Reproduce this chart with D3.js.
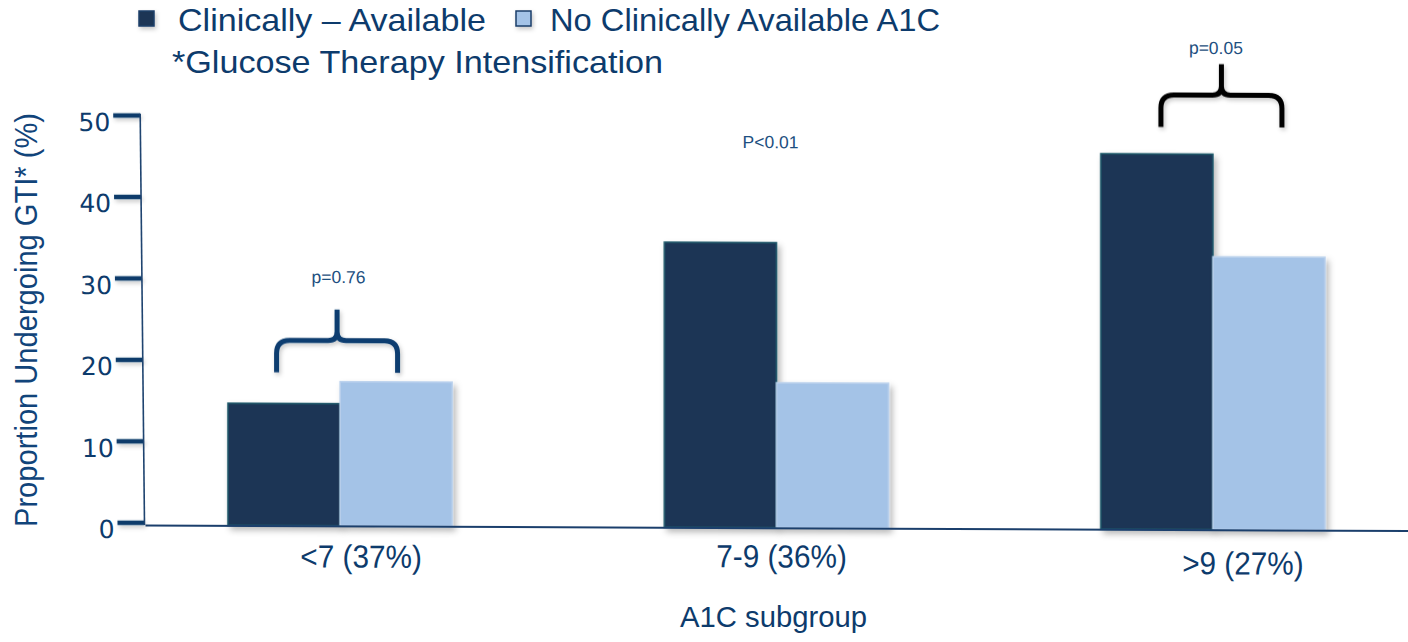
<!DOCTYPE html>
<html>
<head>
<meta charset="utf-8">
<script src="https://cdn.jsdelivr.net/npm/d3@7"></script>
<style>
  html, body { margin: 0; padding: 0; background: #ffffff; }
  svg { display: block; }
</style>
</head>
<body>
<svg id="chart" width="1408" height="642"></svg>
<script>
// ---- data ----
const categories = ["<7 (37%)", "7-9 (36%)", ">9 (27%)"];
const seriesNames = ["Clinically – Available", "No Clinically Available A1C"];
const clinicallyAvailable = [15.0, 35.0, 46.1];
const noClinicallyAvailable = [17.7, 17.8, 33.5];
const yTicks = [0, 10, 20, 30, 40, 50];
const pValueLabels = ["p=0.76", "P<0.01", "p=0.05"];
const bracketedGroups = ["<7 (37%)", ">9 (27%)"];
const footnote = "*Glucose Therapy Intensification";
const yTitle = "Proportion Undergoing GTI* (%)";
const xTitle = "A1C subgroup";

// ---- layout ----
const FONT = "'Liberation Sans', Arial, Helvetica, sans-serif";
const TEXT = "#0d3b6c";
const pLabelLevel = [29.8, 46.6, 58.4];      // value level of each p-value baseline
const pLabelShift = [-1.5, -6, 3];           // horizontal nudge from group centre
const bracketBase = [18.8, 49.4];            // value level where each brace's legs end
const bracketShift = [-3, 8.5];
const bracketColor = ["#0b3c6f", "#000000"];
const catLabelOffset = [[21, 0], [5, -2], [30, 3]];

const svg = d3.select("#chart");
const defs = svg.append("defs");
const shadow = defs.append("filter").attr("id", "shadow")
  .attr("x", "-20%").attr("y", "-20%").attr("width", "140%").attr("height", "140%");
shadow.append("feDropShadow").attr("dx", 3).attr("dy", 4).attr("stdDeviation", 3)
  .attr("flood-color", "#000").attr("flood-opacity", 0.28);
// user-space region so that thin horizontal strokes keep their shadow
const softShadow = defs.append("filter").attr("id", "softShadow")
  .attr("filterUnits", "userSpaceOnUse")
  .attr("x", -300).attr("y", -700).attr("width", 2000).attr("height", 1500);
softShadow.append("feDropShadow").attr("dx", 1.5).attr("dy", 2.5).attr("stdDeviation", 2)
  .attr("flood-color", "#000").attr("flood-opacity", 0.22);

const x = d3.scaleBand().domain(categories).range([145, 1408])
  .paddingInner(0.486).paddingOuter(0.19);
const xs = d3.scaleBand().domain(seriesNames).range([0, x.bandwidth()]);
const y = d3.scaleLinear().domain([0, 50]).range([525, 117.7]);
const fill = d3.scaleOrdinal().domain(seriesNames).range(["#1a3455", "#a4c3e7"]);
const edge = d3.scaleOrdinal().domain(seriesNames).range(["#1f5a6b", "#bcd2ed"]);

const rows = categories.map((c, i) => ({
  cat: c,
  values: [
    { s: seriesNames[0], v: clinicallyAvailable[i] },
    { s: seriesNames[1], v: noClinicallyAvailable[i] }
  ]
}));

function squeeze(sel, k) {
  sel.each(function () {
    const w = this.getComputedTextLength();
    d3.select(this).attr("textLength", w * k).attr("lengthAdjust", "spacingAndGlyphs");
  });
}
function fit(sel, width) {
  sel.attr("textLength", width).attr("lengthAdjust", "spacingAndGlyphs");
}

// ---- plot area (baseline falls slightly toward the right) ----
const plot = svg.append("g").attr("transform", "translate(145,0) skewY(0.25) translate(-145,0)");

plot.append("g").selectAll("g").data(rows).join("g")
  .attr("transform", d => `translate(${x(d.cat)},0)`)
  .selectAll("rect").data(d => d.values).join("rect")
  .attr("x", d => xs(d.s))
  .attr("y", d => y(d.v))
  .attr("width", xs.bandwidth())
  .attr("height", d => y(0) - y(d.v))
  .attr("fill", d => fill(d.s))
  .attr("stroke", d => edge(d.s))
  .attr("stroke-width", 1.5)
  .attr("filter", "url(#shadow)");

// x axis with category labels
const xAxisG = plot.append("g").attr("transform", `translate(0,${y(0)})`)
  .call(d3.axisBottom(x).tickSize(0).tickSizeOuter(0).tickPadding(19));
xAxisG.select(".domain").attr("stroke", "#1b3f6c").attr("stroke-width", 2);
xAxisG.selectAll(".tick text")
  .attr("font-family", FONT).attr("font-size", 32).attr("fill", TEXT)
  .attr("dx", (d, i) => catLabelOffset[i][0])
  .attr("transform", (d, i) => `translate(0,${catLabelOffset[i][1]})`)
  .call(squeeze, 0.93);

// significance braces
function brace(cx, half, yb) {
  const p = d3.path();
  const r = 13, c = 9;
  const yh = yb - 32, yt = yb - 63;
  p.moveTo(cx - half, yb);
  p.lineTo(cx - half, yh + r);
  p.quadraticCurveTo(cx - half, yh, cx - half + r, yh);
  p.lineTo(cx - c, yh);
  p.quadraticCurveTo(cx, yh, cx, yh - c);
  p.lineTo(cx, yt);
  p.moveTo(cx, yh - c);
  p.quadraticCurveTo(cx, yh, cx + c, yh);
  p.lineTo(cx + half - r, yh);
  p.quadraticCurveTo(cx + half, yh, cx + half, yh + r);
  p.lineTo(cx + half, yb);
  return p.toString();
}
plot.append("g").selectAll("path").data(bracketedGroups).join("path")
  .attr("d", (g, i) => brace(x(g) + x.bandwidth() / 2 + bracketShift[i], 60.5, y(bracketBase[i])))
  .attr("fill", "none")
  .attr("stroke", (g, i) => bracketColor[i])
  .attr("stroke-width", 5)
  .attr("filter", "url(#softShadow)");

plot.append("g").selectAll("text").data(pValueLabels).join("text")
  .attr("x", (t, i) => x(categories[i]) + x.bandwidth() / 2 + pLabelShift[i])
  .attr("y", (t, i) => y(pLabelLevel[i]))
  .attr("text-anchor", "middle")
  .attr("font-family", FONT).attr("font-size", 17.5).attr("fill", "#1d4f80")
  .text(t => t);

// ---- y axis (leans slightly left toward the top) ----
const yAxisG = svg.append("g")
  .attr("transform", "translate(144.5,525) skewX(0.6) translate(0,-527.7)");
yAxisG.call(d3.axisLeft(y).tickValues(yTicks).tickSize(27).tickSizeOuter(0).tickPadding(3));
yAxisG.select(".domain").remove();
yAxisG.selectAll(".tick line")
  .attr("stroke", "#0a3a6b").attr("stroke-width", 4.5).attr("filter", "url(#softShadow)");
yAxisG.selectAll(".tick text")
  .attr("font-family", "'DejaVu Sans', Verdana, sans-serif").attr("font-size", 25)
  .attr("fill", TEXT).attr("dy", "0.62em");
yAxisG.append("line")
  .attr("x1", 0).attr("x2", 0)
  .attr("y1", y(0) + 2.7).attr("y2", y(50.5) + 2.7)
  .attr("stroke", "#1f4470").attr("stroke-width", 1.6);

// axis titles
svg.append("text")
  .attr("transform", "translate(37,320) rotate(-90)")
  .attr("text-anchor", "middle")
  .attr("font-family", FONT).attr("font-size", 32).attr("fill", "#11447a")
  .text(yTitle)
  .call(fit, 414);

svg.append("text")
  .attr("x", 773.5).attr("y", 627)
  .attr("text-anchor", "middle")
  .attr("font-family", FONT).attr("font-size", 30).attr("fill", TEXT)
  .text(xTitle)
  .call(fit, 187);

// ---- legend ----
const legendX = [139, 516];
const legendWidth = [308, 390];
const legend = svg.append("g").selectAll("g").data(seriesNames).join("g")
  .attr("transform", (s, i) => `translate(${legendX[i]},0)`);
legend.append("rect")
  .attr("x", 0).attr("y", 11).attr("width", 15).attr("height", 15)
  .attr("fill", s => fill(s)).attr("stroke", "#1c3f6a").attr("stroke-width", 1.5)
  .attr("filter", "url(#softShadow)");
legend.append("text")
  .attr("x", (s, i) => i === 0 ? 39 : 34).attr("y", 31)
  .attr("font-family", FONT).attr("font-size", 32).attr("fill", TEXT)
  .text(s => s)
  .each(function (s, i) { d3.select(this).call(fit, legendWidth[i]); });

svg.append("text")
  .attr("x", 172).attr("y", 73)
  .attr("font-family", FONT).attr("font-size", 32).attr("fill", TEXT)
  .text(footnote)
  .call(fit, 491);
</script>
</body>
</html>
